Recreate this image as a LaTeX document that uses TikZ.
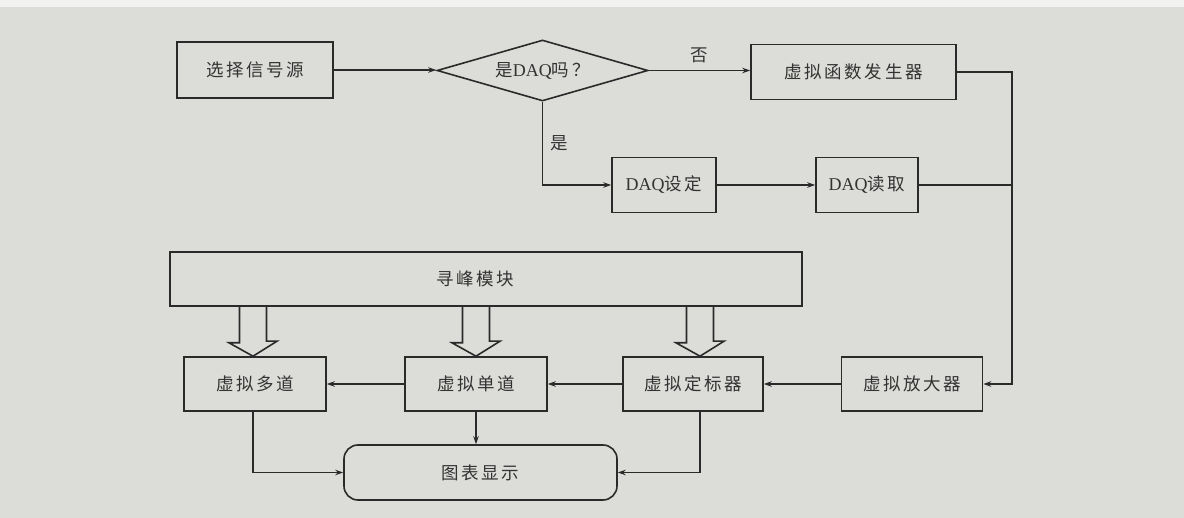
\documentclass[tikz,border=0pt]{standalone}
\usepackage{fontspec}
\setmainfont{Liberation Serif}
\newfontfamily\cjk[LetterSpace=15]{Noto Sans CJK SC}
\usetikzlibrary{shapes.geometric,arrows.meta,calc}
\definecolor{bgc}{HTML}{DCDCD9}
\definecolor{topc}{HTML}{F2F2F0}
\definecolor{linec}{HTML}{2A2A2A}
\definecolor{textc}{HTML}{333333}
\newcommand{\lat}[1]{{\rmfamily\fontsize{18}{18}\selectfont #1}}
\tikzset{
  box/.style={draw=linec, line width=1.6pt, inner sep=0pt, text=textc,
    font=\cjk\fontsize{17.5}{17.5}\selectfont},
  dia/.style={box, diamond, aspect=3.46},
  conn/.style={draw=linec, line width=1.6pt, -{Stealth[length=8pt,width=5.5pt]}},
  wire/.style={draw=linec, line width=1.6pt},
  hollow/.style={draw=linec, line width=1.6pt, line join=miter},
  lbl/.style={inner sep=0pt, text=textc, font=\cjk\fontsize{17.5}{17.5}\selectfont}
}
\begin{document}
\begin{tikzpicture}[x=1pt,y=-1pt]
\fill[bgc] (0,0) rectangle (1184,518);
\fill[topc] (0,0) rectangle (1184,7);
\useasboundingbox (0,0) rectangle (1184,518);

% nodes
\node[box, minimum width=156pt, minimum height=56pt] (src) at (255,70) {选择信号源};
\node[dia, minimum width=211pt, minimum height=61pt] (dq) at (542.5,70.5) {是\lat{DAQ}吗？};
\node[box, minimum width=205pt, minimum height=55pt] (fg) at (853.5,72) {虚拟函数发生器};
\node[box, minimum width=104pt, minimum height=55pt] (set) at (664,185) {\lat{DAQ}设定};
\node[box, minimum width=102pt, minimum height=55pt] (read) at (867,185) {\lat{DAQ}读取};
\node[box, minimum width=632pt, minimum height=54pt] (xf) at (486,279) {\hspace*{-22pt}寻峰模块};
\node[box, minimum width=142pt, minimum height=54pt] (dd) at (255,384) {虚拟多道};
\node[box, minimum width=142pt, minimum height=54pt] (sd) at (476,384) {虚拟单道};
\node[box, minimum width=140pt, minimum height=54pt] (dbq) at (693,384) {虚拟定标器};
\node[box, minimum width=141pt, minimum height=54pt] (amp) at (912,384) {虚拟放大器};
\node[box, rounded corners=14pt, minimum width=273pt, minimum height=55pt] (disp) at (480.5,472.5) {图表显示};

\coordinate (R) at (1012,71);

% connectors
\draw[conn] (src.east) -- (src.east -| dq.west);
\draw[conn] (dq.east) -- node[lbl, above=7pt] {否} (dq.east -| fg.west);
\draw[conn] (dq.south) -- node[lbl, right=7pt] {是} (dq.south |- set.west) -- (set.west);
\draw[conn] (set.east) -- (read.west);
\draw[wire] (read.east) -- (read.east -| R);
\draw[conn] (fg.east) -- (fg.east -| R) -- (R |- amp.east) -- (amp.east);
\draw[conn] (amp.west) -- (dbq.east);
\draw[conn] (dbq.west) -- (sd.east);
\draw[conn] (sd.west) -- (dd.east);
\draw[conn] (sd.south) -- (sd.south |- disp.north);
\draw[conn] ([xshift=-2pt]dd.south) |- (disp.west);
\draw[conn] ([xshift=7pt]dbq.south) |- (disp.east);

% hollow arrows from the peak-search module
\foreach \b/\dx in {dd/-2,sd/0,dbq/7}{
  \coordinate (t) at ([xshift=\dx pt]\b.north);
  \draw[hollow] (t |- xf.south) ++(-13.5,0) -- ++(0,36) -- ++(-10.5,0) -- (t)
    -- ++(24,-15) -- ++(-10.5,0) -- ++(0,-36);
}
\end{tikzpicture}
\end{document}
